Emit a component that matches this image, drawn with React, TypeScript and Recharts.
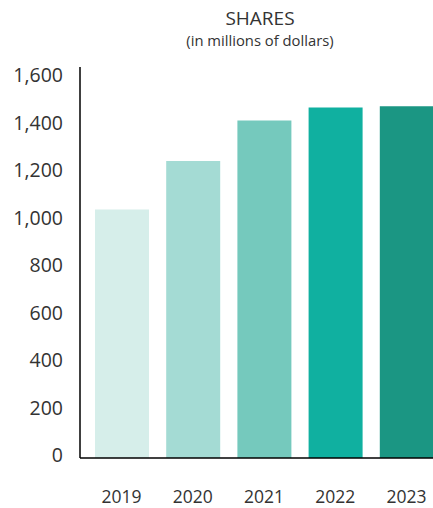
import { BarChart, Bar, XAxis, YAxis, Cell } from "recharts";

const years = ["2019", "2020", "2021", "2022", "2023"];
const shares = [1045, 1250, 1420, 1475, 1480];
const barColors = ["#d6eeea", "#a4dbd4", "#75c9bd", "#10b0a0", "#1b9683"];
const yTicks = [0, 200, 400, 600, 800, 1000, 1200, 1400, 1600];

const data = years.map((year, i) => ({ year, value: shares[i] }));

const FONT = "'Open Sans', sans-serif";

export default function App() {
  return (
    <div
      style={{
        position: "absolute",
        left: 0,
        top: 0,
        width: 433,
        height: 508,
        overflow: "hidden",
        background: "#fff",
        fontFamily: FONT,
      }}
    >
      <svg
        width={433}
        height={60}
        style={{ position: "absolute", left: 0, top: 0 }}
      >
        <text x={260} y={25} textAnchor="middle" fontSize={19} fill="#333" fontFamily={FONT}>
          SHARES
        </text>
        <text x={260} y={46} textAnchor="middle" fontSize={14.8} fill="#333" fontFamily={FONT}>
          (in millions of dollars)
        </text>
      </svg>
      <BarChart
        width={442}
        height={508}
        data={data}
        margin={{ top: 67, right: 0, left: 0, bottom: 0 }}
        barSize={54}
        style={{ position: "absolute", left: 0, top: 0 }}
      >
        <XAxis
          dataKey="year"
          height={50}
          padding={{ left: 6, right: 0 }}
          tickLine={false}
          axisLine={{ stroke: "#000", strokeWidth: 1.5 }}
          tickMargin={27}
          tick={{ fontSize: 17.5, fill: "#333", fontFamily: FONT }}
        />
        <YAxis
          width={80}
          domain={[0, 1645]}
          ticks={yTicks}
          interval={0}
          tickLine={false}
          axisLine={{ stroke: "#000", strokeWidth: 1.5 }}
          tickMargin={11}
          tickFormatter={(v: number) => v.toLocaleString("en-US")}
          tick={{ fontSize: 19.5, fill: "#333", fontFamily: FONT, dy: -2.5 }}
        />
        <Bar dataKey="value" isAnimationActive={false}>
          {data.map((d, i) => (
            <Cell key={d.year} fill={barColors[i]} />
          ))}
        </Bar>
      </BarChart>
    </div>
  );
}
